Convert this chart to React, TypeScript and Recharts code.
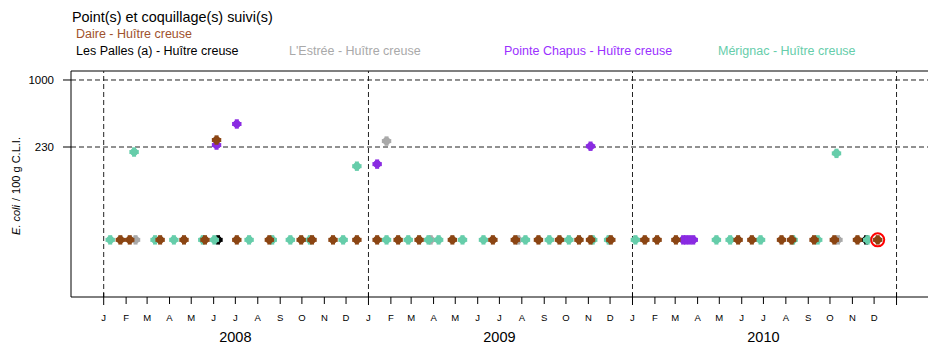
import React from 'react';
import { ScatterChart, Scatter, XAxis, YAxis, ReferenceLine } from 'recharts';

const FONT = '"Liberation Sans", Arial, Helvetica, sans-serif';

// E. coli / 100 g C.L.I. per sampling site (30 = below quantification)
const daireDates = [
  '2008-01-24', '2008-02-06', '2008-03-19', '2008-04-21', '2008-05-20', '2008-06-05',
  '2008-07-03', '2008-08-17', '2008-09-30', '2008-10-15', '2008-11-13', '2008-12-16',
  '2009-01-13', '2009-02-11', '2009-03-12', '2009-04-27', '2009-06-22', '2009-07-23',
  '2009-08-24', '2009-09-22', '2009-10-19', '2009-11-04', '2009-12-02', '2010-01-18',
  '2010-02-04', '2010-03-02', '2010-05-27', '2010-06-15', '2010-07-26', '2010-08-09',
  '2010-09-09', '2010-10-07', '2010-11-08', '2010-12-06',
];
const daireValues = [
  30, 30, 30, 30, 30, 268,
  30, 30, 30, 30, 30, 30,
  30, 30, 30, 30, 30, 30,
  30, 30, 30, 30, 30, 30,
  30, 30, 30, 30, 30, 30,
  30, 30, 30, 30,
];

const merignacDates = [
  '2008-01-10', '2008-02-12', '2008-03-12', '2008-04-07', '2008-05-17', '2008-06-02',
  '2008-07-20', '2008-08-21', '2008-09-15', '2008-10-12', '2008-11-27', '2008-12-16',
  '2009-01-26', '2009-02-25', '2009-03-25', '2009-04-08', '2009-05-11', '2009-06-09',
  '2009-08-06', '2009-09-08', '2009-10-05', '2009-11-07', '2009-11-29', '2010-01-05',
  '2010-04-27', '2010-05-16', '2010-06-27', '2010-08-11', '2010-09-14', '2010-10-10',
  '2010-11-22',
];
const merignacValues = [
  30, 206, 30, 30, 30, 30,
  30, 30, 30, 30, 30, 151,
  30, 30, 30, 30, 30, 30,
  30, 30, 30, 30, 30, 30,
  30, 30, 30, 30, 30, 200,
  30,
];

const estreeDates = ['2008-02-14', '2009-01-26', '2009-03-28', '2009-07-27', '2010-10-12'];
const estreeValues = [30, 262, 30, 30, 30];

const pallesDates = ['2008-06-07', '2010-11-20'];
const pallesValues = [30, 30];

const chapusDates = [
  '2008-06-05', '2008-07-03', '2009-01-13', '2009-11-04',
  '2010-03-12', '2010-03-16', '2010-03-21', '2010-03-26',
];
const chapusValues = [240, 381, 158, 234, 30, 30, 30, 30];

// last result, circled in red
const lastDates = ['2010-12-06'];
const lastValues = [30];

const thresholds = [230, 1000];
const monthLetters = ['J', 'F', 'M', 'A', 'M', 'J', 'J', 'A', 'S', 'O', 'N', 'D'];
const years = [2008, 2009, 2010];

const legendTitle = 'Point(s) et coquillage(s) suivi(s)';
const siteNames = [
  'Daire - Huître creuse',
  'Les Palles (a) - Huître creuse',
  "L'Estrée - Huître creuse",
  'Pointe Chapus - Huître creuse',
  'Mérignac - Huître creuse',
];

const DAY = 86400000;
const T0 = Date.UTC(2008, 0, 1);
const toDay = (s: string) => {
  const [y, m, d] = s.split('-').map(Number);
  return (Date.UTC(y, m - 1, d) - T0) / DAY;
};
const pts = (dates: string[], values: number[]) =>
  dates.map((s, i) => ({ d: toDay(s), v: values[i] }));

const X_MIN = -45.2;
const X_MAX = 1139.5;
const Y_MIN = 8.57;
const Y_MAX = 1218;

const monthTicks: number[] = [];
years.forEach((y) => monthLetters.forEach((_, m) => monthTicks.push((Date.UTC(y, m, 1) - T0) / DAY)));
monthTicks.push((Date.UTC(years[years.length - 1] + 1, 0, 1) - T0) / DAY);
const yearStarts = [...years, years[years.length - 1] + 1].map((y) => (Date.UTC(y, 0, 1) - T0) / DAY);

function plusMarker(color: string) {
  return (p: any) => {
    const { cx, cy } = p;
    if (cx == null || cy == null) return <g />;
    return (
      <g fill={color}>
        <circle cx={cx} cy={cy} r={3.8} />
        <rect x={cx - 4.7} y={cy - 2} width={9.4} height={4} />
        <rect x={cx - 2} y={cy - 4.7} width={4} height={9.4} />
      </g>
    );
  };
}

const ringMarker = (p: any) => (
  <circle cx={p.cx} cy={p.cy} r={6.5} fill="none" stroke="#FF0000" strokeWidth={2} />
);

function MonthTick(props: any) {
  const { x, y, payload } = props;
  const dt = new Date(T0 + payload.value * DAY);
  const m = dt.getUTCMonth();
  const yr = dt.getUTCFullYear();
  const labelled = years.includes(yr);
  return (
    <g>
      <line x1={x} x2={x} y1={m === 0 ? y - 4 : y} y2={m === 0 ? y + 8 : y + 7} stroke="#000" />
      {labelled && (
        <text x={x} y={y + 24} textAnchor="middle" fontSize={9.5} fontFamily={FONT} fill="#000">
          {monthLetters[m]}
        </text>
      )}
      {labelled && m === 6 && (
        <text x={x} y={y + 45} textAnchor="middle" fontSize={14.5} fontFamily={FONT} fill="#000">
          {yr}
        </text>
      )}
    </g>
  );
}

function ValueTick(props: any) {
  const { x, y, payload } = props;
  return (
    <text x={x} y={y} dy="0.36em" textAnchor="end" fontSize={11.5} fontFamily={FONT} fill="#000">
      {payload.value}
    </text>
  );
}

export default function App() {
  return (
    <div style={{ position: 'relative', width: 928, height: 345, background: '#fff', fontFamily: FONT }}>
      <style>{'body{margin:0}'}</style>
      <ScatterChart width={928} height={345} margin={{ top: 71, right: 0, bottom: 0, left: 0 }}>
        <XAxis
          type="number"
          dataKey="d"
          domain={[X_MIN, X_MAX]}
          allowDataOverflow
          ticks={monthTicks}
          interval={0}
          tick={<MonthTick />}
          tickLine={false}
          tickSize={0}
          tickMargin={0}
          height={48}
          axisLine={{ stroke: '#000' }}
        />
        <YAxis
          type="number"
          dataKey="v"
          scale="log"
          domain={[Y_MIN, Y_MAX]}
          allowDataOverflow
          ticks={thresholds}
          width={71}
          tickSize={8}
          tickMargin={9}
          tickLine={{ stroke: '#000' }}
          axisLine={{ stroke: '#000' }}
          tick={<ValueTick />}
        />
        <ReferenceLine y={Y_MAX} stroke="#000" ifOverflow="visible" />
        {thresholds.map((t) => (
          <ReferenceLine key={t} y={t} stroke="#222" strokeDasharray="5 3" />
        ))}
        {yearStarts.map((d) => (
          <ReferenceLine key={d} x={d} stroke="#222" strokeDasharray="5 3" />
        ))}
        <Scatter data={pts(pallesDates, pallesValues)} shape={plusMarker('#000000')} isAnimationActive={false} />
        <Scatter data={pts(estreeDates, estreeValues)} shape={plusMarker('#A9A9A9')} isAnimationActive={false} />
        <Scatter data={pts(chapusDates, chapusValues)} shape={plusMarker('#8A2BE2')} isAnimationActive={false} />
        <Scatter data={pts(merignacDates, merignacValues)} shape={plusMarker('#66CDAA')} isAnimationActive={false} />
        <Scatter data={pts(daireDates, daireValues)} shape={plusMarker('#8B4513')} isAnimationActive={false} />
        <Scatter data={pts(lastDates, lastValues)} shape={ringMarker} isAnimationActive={false} />
      </ScatterChart>
      <svg
        width={928}
        height={345}
        style={{ position: 'absolute', left: 0, top: 0, pointerEvents: 'none' }}
        fontFamily={FONT}
      >
        <text x={72} y={22} fontSize={14.4} fill="#000">{legendTitle}</text>
        <text x={76} y={38} fontSize={12.5} fill="#A0522D">{siteNames[0]}</text>
        <text x={76} y={55} fontSize={12.5} fill="#000">{siteNames[1]}</text>
        <text x={289} y={55} fontSize={12.5} fill="#A9A9A9">{siteNames[2]}</text>
        <text x={504} y={55} fontSize={12.5} fill="#9B30FF">{siteNames[3]}</text>
        <text x={718} y={55} fontSize={12.5} fill="#66CDAA">{siteNames[4]}</text>
        <text transform="translate(20,186) rotate(-90)" textAnchor="middle" fontSize={11} fill="#000">
          <tspan fontStyle="italic">E. coli</tspan>
          <tspan dx={4}>/</tspan>
          <tspan dx={4}>100 g C.L.I.</tspan>
        </text>
      </svg>
    </div>
  );
}
